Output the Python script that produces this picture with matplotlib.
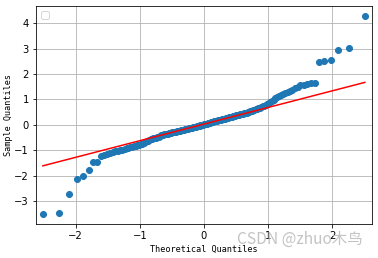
import matplotlib
matplotlib.use("Agg")
import matplotlib.pyplot as plt
import numpy as np
from statistics import NormalDist

# Sorted sample values
sample_low = [-3.52, -3.48, -2.74, -2.15, -2.02, -1.79, -1.48, -1.48]
sample_mid = [
    -1.24, -1.20, -1.16, -1.12, -1.08, -1.05, -1.02, -1.00, -0.98, -0.95,
    -0.92, -0.90, -0.88, -0.86, -0.84, -0.82, -0.80, -0.78, -0.76, -0.74,
    -0.71, -0.68, -0.65, -0.62, -0.60, -0.58, -0.56, -0.54, -0.53, -0.51,
    -0.50, -0.48, -0.45, -0.42, -0.40, -0.39, -0.38, -0.37, -0.36, -0.35,
    -0.34, -0.33, -0.32, -0.30, -0.29, -0.28, -0.27, -0.26, -0.25, -0.24,
    -0.23, -0.22, -0.21, -0.20, -0.19, -0.18, -0.17, -0.16, -0.15, -0.14,
    -0.13, -0.12, -0.11, -0.10, -0.09, -0.08, -0.07, -0.06, -0.05, -0.04,
    -0.03, -0.02, -0.01, 0.00, 0.01, 0.02, 0.03, 0.04, 0.05, 0.06,
    0.07, 0.08, 0.09, 0.10, 0.12, 0.13, 0.14, 0.15, 0.16, 0.17,
    0.18, 0.19, 0.20, 0.21, 0.22, 0.23, 0.24, 0.25, 0.27, 0.28,
    0.29, 0.30, 0.31, 0.32, 0.34, 0.35, 0.36, 0.37, 0.38, 0.39,
    0.41, 0.42, 0.43, 0.44, 0.45, 0.46, 0.47, 0.50, 0.52, 0.54,
    0.56, 0.58, 0.60, 0.62, 0.64, 0.66, 0.68, 0.70, 0.72, 0.74,
    0.77, 0.80, 0.84, 0.88, 0.92, 0.98, 1.04, 1.09, 1.14, 1.18,
    1.22, 1.26, 1.29, 1.32, 1.38, 1.45, 1.50, 1.55, 1.58, 1.61,
    1.63, 1.66,
]
sample_high = [2.46, 2.50, 2.54, 2.93, 3.01, 4.27]

x_ticks = [-2, -1, 0, 1, 2]
y_ticks = [-3, -2, -1, 0, 1, 2, 3, 4]
x_label = "Theoretical Quantiles"
y_label = "Sample Quantiles"
watermark = "CSDN @zhuo木鸟"

sample = np.array(sample_low + sample_mid + sample_high)
n = len(sample)
nd = NormalDist()
theoretical = np.array([nd.inv_cdf(i / (n + 1)) for i in range(1, n + 1)])

# quartile reference line (statsmodels line='q')
q25, q75 = np.percentile(sample, [25, 75])
tq25, tq75 = nd.inv_cdf(0.25), nd.inv_cdf(0.75)
m = (q75 - q25) / (tq75 - tq25)
b = q25 - m * tq25

fig = plt.figure(figsize=(378 / 72, 258 / 72), dpi=72)
ax = fig.add_axes([36 / 378, 34 / 258, (371.7 - 36) / 378, (224 - 6) / 258])

ax.plot(theoretical, sample, linestyle="none", marker="o", markersize=6,
        markerfacecolor="#1f77b4", markeredgecolor="#1f77b4")
ax.plot(theoretical, m * theoretical + b, "r-", linewidth=1.5)

ax.set_xlim(-2.62, 2.62)
ax.set_ylim(-3.91, 4.68)
ax.set_xticks(x_ticks)
ax.set_yticks(y_ticks)
ax.tick_params(labelsize=10)
ax.grid(True, color="#b0b0b0", linewidth=0.8)

ax.set_xlabel(x_label, family="DejaVu Sans Mono", fontsize=8.5, labelpad=4)
ax.set_ylabel(y_label, family="DejaVu Sans Mono", fontsize=8.5, labelpad=1)

ax.legend(handles=[], loc="upper left")

fig.text(237 / 378, 1 - 239 / 258, watermark, family=["Noto Sans CJK SC", "DejaVu Sans"],
         fontsize=15.5, color="#bdbdbd", alpha=0.9, va="center", ha="left")

fig.savefig("out.png", dpi=72)
